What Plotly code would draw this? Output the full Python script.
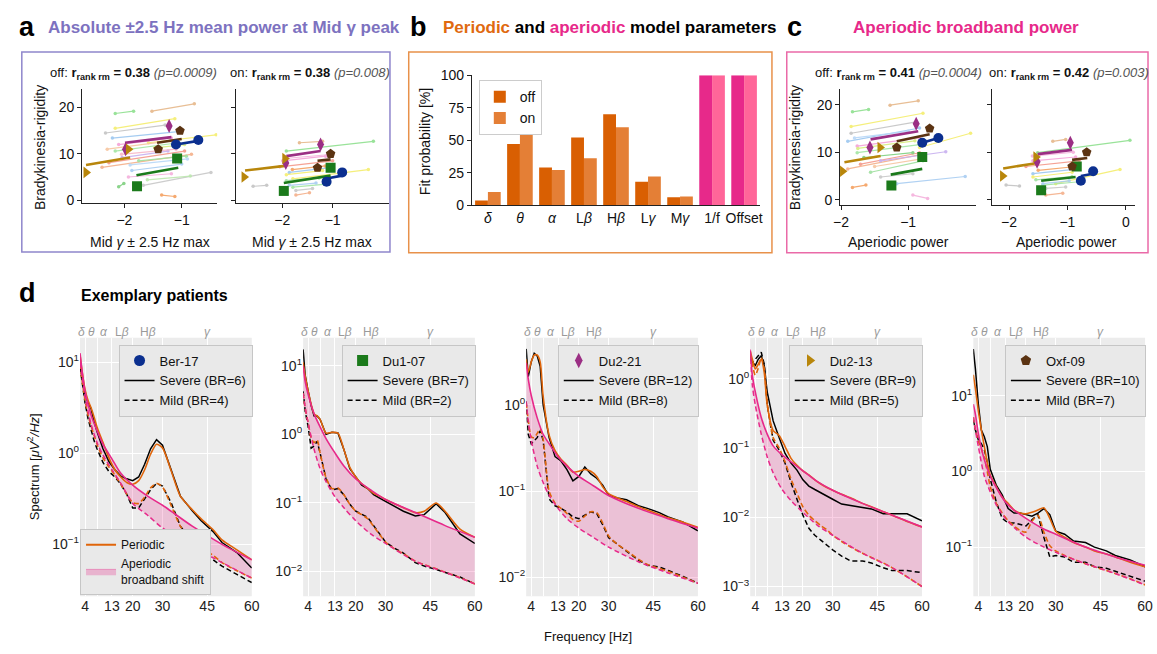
import plotly.graph_objects as go

W, H = 1157, 654
FONT = "Liberation Sans, Arial, sans-serif"

# ---------------- panel b data ----------------
b_categories = ["<i>δ</i>", "<i>θ</i>", "<i>α</i>", "L<i>β</i>", "H<i>β</i>", "L<i>γ</i>", "M<i>γ</i>", "1/f", "Offset"]
b_fit_off = [3.5, 47, 29, 52, 70, 18, 6, 100, 100]
b_fit_on = [10, 60, 27, 36, 60, 22, 6.5, 100, 100]

# ---------------- panels a & c data ----------------
patients = ["Ber-17", "Du1-07", "Du2-21", "Du2-13", "Oxf-09"]
br_off = [[12, 13], [3, 9], [11, 16], [6, 11], [11, 15]]
br_on = [[4, 6], [2, 7], [8, 12], [5, 9], [7, 10]]

a_off_pt_x = [[-1.10, -0.71], [-1.78, -1.08], [-1.98, -1.22], [-2.67, -1.93], [-1.41, -1.03]]
a_off_fit_x = [[-1.10, -0.71], [-1.79, -1.06], [-1.99, -1.18], [-2.67, -1.90], [-1.43, -1.00]]
a_off_fit_y = [[12.0, 12.8], [5.4, 7.0], [12.4, 13.6], [7.6, 9.2], [12.4, 13.2]]
a_on_pt_x = [[-1.12, -0.81], [-1.97, -1.04], [-1.93, -1.24], [-2.76, -1.95], [-1.30, -1.04]]
a_on_fit_x = [[-1.12, -0.81], [-1.97, -1.04], [-1.92, -1.24], [-2.74, -1.95], [-1.30, -1.04]]
a_on_fit_y = [[4.7, 5.3], [3.7, 5.3], [9.5, 10.6], [6.4, 7.4], [8.5, 8.8]]
c_off_pt_x = [[-0.79, -0.55], [-1.25, -0.79], [-1.57, -0.88], [-1.98, -1.42], [-1.17, -0.68]]
c_off_fit_x = [[-0.79, -0.55], [-1.26, -0.79], [-1.56, -0.85], [-1.95, -1.41], [-1.17, -0.68]]
c_off_fit_y = [[12.0, 13.0], [5.3, 6.5], [12.7, 14.4], [7.9, 9.2], [12.3, 13.8]]
c_on_pt_x = [[-0.77, -0.56], [-1.45, -0.84], [-1.52, -0.95], [-2.11, -1.54], [-0.92, -0.67]]
c_on_fit_x = [[-0.77, -0.56], [-1.45, -0.86], [-1.51, -0.92], [-2.10, -1.54], [-0.92, -0.66]]
c_on_fit_y = [[5.0, 5.5], [4.0, 4.8], [9.6, 10.5], [6.6, 7.7], [8.4, 8.8]]

# other patients' repeated-measures lines (start/end)
a_off_bg_x0 = [-2.16, -1.52, -2.16, -2.33, -2.21, -1.58, -2.10, -2.16, -2.39, -2.27, -1.75, -1.87, -1.67, -1.93, -1.35, -2.10, -2.04, -1.47, -2.30, -1.90, -2.05, -1.60]
a_off_bg_x1 = [-1.84, -0.78, -1.12, -1.29, -1.06, -0.40, -1.18, -1.06, -0.83, -0.95, -0.92, -1.00, -0.49, -1.18, -1.12, -2.01, -1.24, -0.95, -1.20, -0.90, -1.10, -0.85]
a_off_bg_y0 = [18.7, 19.2, 15.5, 14.5, 13.4, 12.4, 12.0, 10.6, 7.1, 8.1, 8.5, 6.4, 3.2, 5.0, 1.1, 2.9, 9.2, 11.3, 11.0, 7.6, 9.9, 4.4]
a_off_bg_y1 = [19.2, 20.8, 17.6, 16.2, 14.8, 14.1, 13.4, 12.4, 9.9, 10.6, 9.5, 7.8, 6.0, 5.7, 0.8, 3.6, 10.6, 12.0, 12.8, 8.9, 11.0, 5.2]
a_on_bg_x0 = [-1.92, -1.66, -1.79, -2.58, -1.86, -1.92, -1.99, -1.79, -1.73, -2.05, -1.92, -1.86, -1.73, -1.95, -1.80]
a_on_bg_x1 = [-0.19, -1.20, -0.29, -2.31, -1.00, -1.20, -1.14, -1.07, -1.46, -1.00, -1.27, -1.33, -1.40, -1.10, -1.15]
a_on_bg_y0 = [10.6, 12.4, 4.6, 3.0, 6.0, 5.5, 8.5, 2.8, 1.1, 7.2, 4.2, 3.2, 2.1, 9.0, 6.6]
a_on_bg_y1 = [12.7, 12.7, 6.6, 3.2, 7.1, 6.4, 9.5, 3.5, 1.6, 8.5, 4.8, 3.7, 2.5, 9.8, 7.4]
c_off_bg_x0 = [-1.83, -1.27, -1.85, -1.85, -1.90, -0.83, -1.76, -1.76, -1.90, -1.71, -1.56, -1.17, -1.41, -0.93, -1.83, -1.66, -1.41, -1.75, -1.50, -1.80]
c_off_bg_x1 = [-1.59, -0.85, -0.78, -0.88, -0.83, -0.07, -0.83, -0.83, -0.78, -0.83, -0.78, -0.15, -0.93, -0.71, -1.63, -0.93, -0.44, -0.90, -0.80, -1.00]
c_off_bg_y0 = [18.5, 19.9, 15.4, 14.0, 12.3, 11.0, 11.3, 9.9, 6.5, 7.5, 5.8, 3.4, 4.8, 1.0, 2.6, 8.9, 8.2, 10.8, 7.0, 13.0]
c_off_bg_y1 = [19.0, 20.8, 18.2, 16.4, 15.1, 14.0, 13.0, 11.6, 9.6, 9.9, 8.2, 4.9, 5.5, 0.3, 3.1, 9.9, 10.1, 12.4, 8.6, 14.4]
c_on_bg_x0 = [-1.51, -1.25, -1.20, -2.05, -1.59, -1.59, -1.59, -1.42, -1.37, -1.71, -1.54, -1.42, -1.37, -1.60, -1.50]
c_on_bg_x1 = [0.07, -1.03, -0.10, -1.82, -0.80, -0.92, -0.86, -0.80, -1.08, -0.80, -0.92, -0.97, -1.03, -0.90, -0.85]
c_on_bg_y0 = [9.9, 12.3, 3.4, 3.1, 5.5, 4.8, 8.2, 3.1, 1.0, 7.0, 4.2, 3.4, 2.4, 9.2, 6.2]
c_on_bg_y1 = [12.5, 12.7, 6.4, 2.9, 6.5, 5.8, 9.0, 3.8, 1.4, 8.2, 4.9, 4.0, 2.7, 10.0, 7.0]

# ---------------- panel d data (log10 power) ----------------
freq = [2.3, 3, 4, 5, 6, 7, 8, 10, 12, 14, 16, 18, 20, 22, 24, 26, 28, 30, 33, 36, 40, 43, 47, 50, 55, 60]
freq_ap = [2.3, 3, 4, 6, 8, 10, 13, 16, 20, 25, 30, 40, 50, 60]
d_br_severe = [6, 7, 12, 9, 10]
d_br_mild = [4, 2, 8, 5, 7]

ber17_sev = [0.96, 0.82, 0.64, 0.56, 0.49, 0.35, 0.24, 0.05, -0.09, -0.18, -0.25, -0.28, -0.30, -0.26, -0.12, 0.05, 0.15, 0.09, -0.19, -0.47, -0.63, -0.74, -0.86, -0.98, -1.09, -1.26]
ber17_sev_fit = [1.08, 0.9, 0.7, 0.58, 0.5, 0.4, 0.29, 0.12, -0.05, -0.18, -0.26, -0.32, -0.34, -0.3, -0.18, -0.01, 0.1, 0.06, -0.2, -0.47, -0.62, -0.72, -0.84, -0.95, -1.06, -1.17]
ber17_mild = [0.95, 0.78, 0.55, 0.38, 0.25, 0.14, 0.05, -0.1, -0.2, -0.26, -0.34, -0.45, -0.6, -0.6, -0.5, -0.4, -0.33, -0.36, -0.55, -0.8, -0.97, -1.07, -1.17, -1.24, -1.33, -1.42]
ber17_mild_fit = [0.98, 0.8, 0.58, 0.42, 0.3, 0.2, 0.1, -0.05, -0.15, -0.24, -0.34, -0.45, -0.54, -0.55, -0.48, -0.38, -0.33, -0.37, -0.58, -0.8, -0.96, -1.04, -1.12, -1.2, -1.29, -1.37]
ber17_ap_sev = [1.1, 0.9, 0.68, 0.42, 0.25, 0.1, -0.06, -0.22, -0.35, -0.47, -0.57, -0.8, -1.0, -1.17]
ber17_ap_mild = [1.0, 0.84, 0.62, 0.32, 0.12, -0.02, -0.18, -0.33, -0.55, -0.68, -0.82, -1.02, -1.2, -1.37]

du107_sev = [1.24, 0.86, 0.63, 0.42, 0.27, 0.27, 0.22, 0.0, 0.03, 0.02, -0.22, -0.5, -0.62, -0.74, -0.79, -0.88, -0.93, -0.98, -1.05, -1.12, -1.19, -1.17, -1.01, -1.14, -1.45, -1.59]
du107_sev_fit = [1.05, 0.85, 0.63, 0.44, 0.3, 0.27, 0.22, 0.02, 0.03, 0.02, -0.22, -0.48, -0.62, -0.72, -0.79, -0.86, -0.9, -0.95, -1.01, -1.07, -1.14, -1.12, -1.0, -1.12, -1.38, -1.5]
du107_mild = [0.63, 0.34, 0.11, -0.2, -0.17, -0.1, -0.27, -0.65, -0.81, -0.79, -0.88, -1.02, -1.12, -1.17, -1.21, -1.33, -1.45, -1.57, -1.66, -1.73, -1.87, -1.92, -1.97, -2.01, -2.08, -2.18]
du107_mild_fit = [0.6, 0.38, 0.17, -0.05, -0.12, -0.08, -0.27, -0.63, -0.79, -0.78, -0.88, -1.02, -1.12, -1.17, -1.23, -1.34, -1.46, -1.57, -1.67, -1.74, -1.85, -1.9, -1.96, -2.01, -2.09, -2.18]
du107_ap_sev = [1.0, 0.77, 0.58, 0.3, 0.11, -0.06, -0.27, -0.46, -0.65, -0.81, -0.95, -1.14, -1.33, -1.5]
du107_ap_mild = [0.6, 0.39, 0.16, -0.22, -0.5, -0.69, -0.91, -1.07, -1.26, -1.45, -1.59, -1.85, -2.01, -2.18]

du221_sev = [0.65, 0.33, 0.5, 0.6, 0.57, 0.45, 0.0, -0.38, -0.6, -0.65, -0.75, -0.88, -0.83, -0.72, -0.8, -0.85, -0.93, -1.05, -1.08, -1.1, -1.17, -1.2, -1.25, -1.3, -1.36, -1.46]
du221_sev_fit = [0.53, 0.38, 0.5, 0.58, 0.58, 0.5, 0.1, -0.35, -0.53, -0.63, -0.7, -0.78, -0.77, -0.75, -0.77, -0.83, -0.95, -1.03, -1.08, -1.12, -1.18, -1.22, -1.27, -1.31, -1.36, -1.42]
du221_mild = [0.04, -0.34, -0.45, -0.41, -0.38, -0.3, -0.41, -1.09, -1.17, -1.2, -1.24, -1.3, -1.32, -1.28, -1.24, -1.26, -1.39, -1.54, -1.62, -1.69, -1.8, -1.86, -1.88, -1.92, -1.99, -2.07]
du221_mild_fit = [0.02, -0.18, -0.37, -0.38, -0.33, -0.28, -0.4, -1.0, -1.14, -1.2, -1.26, -1.33, -1.35, -1.29, -1.24, -1.25, -1.37, -1.52, -1.62, -1.69, -1.79, -1.85, -1.9, -1.93, -2.0, -2.07]
du221_ap_sev = [0.49, 0.3, 0.11, -0.15, -0.34, -0.45, -0.6, -0.71, -0.83, -0.94, -1.05, -1.2, -1.32, -1.43]
du221_ap_mild = [0.04, -0.19, -0.41, -0.71, -0.9, -1.05, -1.2, -1.32, -1.43, -1.54, -1.65, -1.82, -1.95, -2.07]

du213_sev = [0.33, 0.24, 0.19, 0.28, 0.33, 0.19, -0.19, -0.61, -0.85, -1.08, -1.22, -1.32, -1.46, -1.55, -1.6, -1.65, -1.69, -1.74, -1.81, -1.83, -1.86, -1.88, -1.95, -1.95, -1.95, -2.05]
du213_sev_fit = [0.4, 0.28, 0.14, 0.21, 0.28, 0.09, -0.38, -0.75, -0.82, -0.98, -1.15, -1.25, -1.33, -1.39, -1.46, -1.52, -1.57, -1.61, -1.67, -1.72, -1.8, -1.85, -1.92, -1.97, -2.06, -2.14]
du213_mild = [0.28, 0.24, 0.28, 0.33, 0.38, 0.21, -0.38, -0.89, -1.03, -1.22, -1.5, -1.74, -1.97, -2.16, -2.26, -2.33, -2.4, -2.47, -2.56, -2.63, -2.63, -2.66, -2.73, -2.77, -2.77, -2.8]
du213_mild_fit = [0.35, 0.2, 0.05, 0.15, 0.3, 0.15, -0.35, -0.85, -1.0, -1.2, -1.45, -1.65, -1.85, -1.97, -2.05, -2.12, -2.18, -2.26, -2.35, -2.43, -2.52, -2.58, -2.66, -2.73, -2.86, -3.0]
du213_ap_sev = [0.42, 0.05, -0.19, -0.56, -0.8, -0.97, -1.1, -1.2, -1.33, -1.49, -1.61, -1.8, -1.97, -2.14]
du213_ap_mild = [0.4, -0.09, -0.38, -0.8, -1.13, -1.36, -1.6, -1.76, -1.93, -2.12, -2.26, -2.52, -2.73, -3.0]

oxf09_sev = [1.62, 1.36, 0.89, 0.55, 0.46, 0.33, 0.03, -0.18, -0.31, -0.49, -0.55, -0.55, -0.57, -0.59, -0.55, -0.49, -0.57, -0.79, -0.83, -0.92, -0.94, -1.0, -1.05, -1.11, -1.17, -1.26]
oxf09_sev_fit = [1.28, 1.1, 0.8, 0.55, 0.33, 0.12, -0.05, -0.2, -0.34, -0.42, -0.51, -0.55, -0.56, -0.54, -0.51, -0.48, -0.62, -0.79, -0.87, -0.94, -1.0, -1.05, -1.09, -1.13, -1.2, -1.26]
oxf09_mild = [0.68, 0.55, 0.42, 0.37, 0.29, 0.12, -0.1, -0.4, -0.62, -0.68, -0.68, -0.7, -0.72, -0.64, -0.57, -0.87, -1.13, -1.11, -1.13, -1.2, -1.2, -1.26, -1.28, -1.32, -1.39, -1.45]
oxf09_mild_fit = [0.72, 0.56, 0.4, 0.3, 0.18, 0.0, -0.2, -0.42, -0.55, -0.65, -0.72, -0.78, -0.8, -0.66, -0.58, -0.8, -0.98, -1.05, -1.11, -1.16, -1.22, -1.26, -1.31, -1.35, -1.42, -1.5]
oxf09_ap_sev = [0.89, 0.76, 0.5, 0.16, -0.06, -0.21, -0.4, -0.51, -0.62, -0.74, -0.83, -1.0, -1.13, -1.24]
oxf09_ap_mild = [0.72, 0.55, 0.33, -0.06, -0.27, -0.44, -0.62, -0.74, -0.87, -0.98, -1.07, -1.22, -1.35, -1.5]

band_names = ["<i>δ</i>", "<i>θ</i>", "<i>α</i>", "L<i>β</i>", "H<i>β</i>", "<i>γ</i>"]
band_centers = [2.8, 6, 10.5, 16.5, 25, 45]
freq_ticks = [4, 8, 13, 20, 30, 45, 60]
freq_ticktext = ["4", "", "13", "20", "30", "45", "60"]

# ---------------- styles ----------------
pat_colors = ["#0b2f8f", "#1b7a1b", "#9b2f84", "#b8860b", "#5b3312"]
pat_symbols = ["circle", "square", "diamond-tall", "triangle-right", "pentagon"]
bg_palette = ["#8fe08f", "#e6b88a", "#f5ee6e", "#c4c4c4", "#9cc7f0", "#f5ee6e", "#f5a3d8", "#a3e6a3",
              "#f5b08a", "#f5998a", "#9fe09f", "#a8cdf2", "#c8c8c8", "#f5b0dc", "#f5a060", "#7fd07f",
              "#c8b0f0", "#d8ee80", "#f7c6a0", "#b8d8f8", "#f8b8c8", "#bde8b0"]
ORANGE = "#e0650a"
PINK = "#e7298a"
FILL = "rgba(231,41,138,0.22)"


def fx(p):
    return p / W


def fy(p):
    return 1 - p / H


def ref(i, a):
    return a if i == 1 else f"{a}{i}"


def axname(i, a):
    return f"{a}axis" if i == 1 else f"{a}axis{i}"


fig = go.Figure()
layout = dict(
    width=W, height=H, margin=dict(l=0, r=0, t=0, b=0),
    paper_bgcolor="white", plot_bgcolor="rgba(0,0,0,0)",
    font=dict(family=FONT, size=13, color="#111"),
    barmode="group", bargap=0.2, bargroupgap=0.0,
    showlegend=True,
)

sc_axis = dict(showline=True, linecolor="#222", linewidth=1, ticks="outside", ticklen=4,
               tickwidth=1, tickcolor="#222", showgrid=False, zeroline=False,
               tickfont=dict(size=14, color="#111"))


def set_axes(i, xdom, ydom, xkw, ykw):
    layout[axname(i, "x")] = dict(domain=[fx(xdom[0]), fx(xdom[1])], anchor=ref(i, "y"), **xkw)
    layout[axname(i, "y")] = dict(domain=[fy(ydom[1]), fy(ydom[0])], anchor=ref(i, "x"), **ykw)


# ---- scatter panels a and c ----
scatter_specs = [
    (1, (76, 213), (83, 200), [-2.74, -0.38], [-0.63, 24], [-2, -1], True,
     (a_off_bg_x0, a_off_bg_x1, a_off_bg_y0, a_off_bg_y1), a_off_pt_x, a_off_fit_x, a_off_fit_y, br_off),
    (2, (232, 387), (83, 200), [-2.92, 0.12], [-0.63, 24], [-2, -1], False,
     (a_on_bg_x0, a_on_bg_x1, a_on_bg_y0, a_on_bg_y1), a_on_pt_x, a_on_fit_x, a_on_fit_y, br_on),
    (4, (844, 982), (83, 202), [-2.015, 0.015], [-1.1, 23.3], [-2, -1], True,
     (c_off_bg_x0, c_off_bg_x1, c_off_bg_y0, c_off_bg_y1), c_off_pt_x, c_off_fit_x, c_off_fit_y, br_off),
    (5, (998, 1143), (83, 202), [-2.29, 0.16], [-1.1, 23.3], [-2, -1, 0], False,
     (c_on_bg_x0, c_on_bg_x1, c_on_bg_y0, c_on_bg_y1), c_on_pt_x, c_on_fit_x, c_on_fit_y, br_on),
]

for (i, xd, yd, xr, yr, xt, ylab, bg, ptx, fitx, fity, br) in scatter_specs:
    xa = dict(sc_axis, range=xr, tickvals=xt, ticktext=[("−" + str(-v)) if v < 0 else str(v) for v in xt])
    ya = dict(sc_axis, range=yr, tickvals=[0, 10, 20], showticklabels=ylab)
    set_axes(i, xd, yd, xa, ya)
    xs, ys = ref(i, "x"), ref(i, "y")
    x0s, x1s, y0s, y1s = bg
    for k in range(len(x0s)):
        col = bg_palette[k % len(bg_palette)]
        fig.add_trace(go.Scatter(x=[x0s[k], x1s[k]], y=[y0s[k], y1s[k]], mode="lines+markers",
                                 line=dict(color=col, width=1.2), marker=dict(size=3.5, color=col),
                                 opacity=0.9, showlegend=False, hoverinfo="skip", xaxis=xs, yaxis=ys))
    for p in range(len(patients)):
        fig.add_trace(go.Scatter(x=fitx[p], y=fity[p], mode="lines",
                                 line=dict(color=pat_colors[p], width=2.6),
                                 showlegend=False, xaxis=xs, yaxis=ys))
    for p in range(len(patients)):
        fig.add_trace(go.Scatter(x=ptx[p], y=br[p], mode="markers",
                                 marker=dict(color=pat_colors[p], symbol=pat_symbols[p], size=10,
                                             line=dict(width=0)),
                                 showlegend=False, xaxis=xs, yaxis=ys))

# ---- panel b bars ----
b_off_colors = ["#d95f02"] * 7 + ["#e7298a"] * 2
b_on_colors = ["#e47f36"] * 7 + ["#ff6699"] * 2
set_axes(3, (471, 763), (69, 202),
         dict(showline=True, linecolor="#222", linewidth=1, ticks="", showgrid=False, zeroline=False,
              range=[-0.5, 8.5], tickvals=list(range(len(b_categories))), ticktext=b_categories,
              tickfont=dict(size=14, color="#111")),
         dict(sc_axis, range=[0, 100], tickvals=[0, 25, 50, 75, 100]))
fig.add_trace(go.Bar(x=list(range(len(b_categories))), y=b_fit_off, name="off",
                     marker=dict(color=b_off_colors, line=dict(width=0)), xaxis="x3", yaxis="y3",
                     legend="legend"))
fig.add_trace(go.Bar(x=list(range(len(b_categories))), y=b_fit_on, name="on",
                     marker=dict(color=b_on_colors, line=dict(width=0)), xaxis="x3", yaxis="y3",
                     legend="legend"))

# ---- panel d spectra ----
d_sets = [
    (ber17_sev, ber17_sev_fit, ber17_mild, ber17_mild_fit, ber17_ap_sev, ber17_ap_mild),
    (du107_sev, du107_sev_fit, du107_mild, du107_mild_fit, du107_ap_sev, du107_ap_mild),
    (du221_sev, du221_sev_fit, du221_mild, du221_mild_fit, du221_ap_sev, du221_ap_mild),
    (du213_sev, du213_sev_fit, du213_mild, du213_mild_fit, du213_ap_sev, du213_ap_mild),
    (oxf09_sev, oxf09_sev_fit, oxf09_mild, oxf09_mild_fit, oxf09_ap_sev, oxf09_ap_mild),
]
d_left = [74, 300, 526, 753, 979]
d_yranges = [[-1.57, 1.27], [-2.36, 1.41], [-2.22, 0.78], [-3.14, 0.59], [-1.65, 1.77]]
d_legend_x = [113, 339, 558, 792, 1011]

shapes = []
annotations = []

sup = {1: "1", 0: "0", -1: "−1", -2: "−2", -3: "−3"}
spl = dict(shape="spline", smoothing=0.8)

for j in range(5):
    i = 6 + j
    xs, ys = ref(i, "x"), ref(i, "y")
    lo, hi = d_yranges[j]
    decs = [d for d in range(-3, 2) if lo <= d <= hi]
    xa = dict(range=[2.3, 60], tickvals=freq_ticks, ticktext=freq_ticktext, showgrid=True,
              gridcolor="white", gridwidth=1.2, zeroline=False, showline=False, ticks="",
              tickfont=dict(size=14, color="#222"))
    ya = dict(type="log", range=[lo, hi], tickvals=[10 ** d for d in decs],
              ticktext=[f"10<sup>{sup[d]}</sup>" for d in decs], showgrid=True, gridcolor="white",
              gridwidth=1.2, zeroline=False, showline=False, ticks="", tickfont=dict(size=14, color="#222"))
    set_axes(i, (d_left[j], d_left[j] + 174), (338, 603), xa, ya)
    shapes.append(dict(type="rect", xref=f"{xs} domain", yref=f"{ys} domain", x0=0, x1=1, y0=0, y1=1,
                       fillcolor="#ececec", line=dict(width=0), layer="below"))
    sev, sev_fit, mild, mild_fit, ap_sev, ap_mild = d_sets[j]
    ap_mild_y = [10 ** v for v in ap_mild]
    ap_sev_y = [10 ** v for v in ap_sev]
    lg = f"legend{j + 2}"
    fig.add_trace(go.Scatter(x=[None], y=[None], mode="markers", name=patients[j],
                             marker=dict(color=pat_colors[j], symbol=pat_symbols[j], size=11),
                             xaxis=xs, yaxis=ys, legend=lg))
    # shaded aperiodic broadband shift
    fig.add_trace(go.Scatter(x=freq_ap, y=ap_mild_y, mode="lines", line=dict(width=0, **spl),
                             showlegend=False, hoverinfo="skip", xaxis=xs, yaxis=ys))
    fig.add_trace(go.Scatter(x=freq_ap, y=ap_sev_y, mode="lines", fill="tonexty", fillcolor=FILL,
                             line=dict(width=0, **spl), showlegend=False, hoverinfo="skip",
                             xaxis=xs, yaxis=ys))
    # raw spectra
    fig.add_trace(go.Scatter(x=freq, y=[10 ** v for v in sev], mode="lines",
                             name=f"Severe (BR={d_br_severe[j]})",
                             line=dict(color="black", width=1.5), xaxis=xs, yaxis=ys, legend=lg))
    fig.add_trace(go.Scatter(x=freq, y=[10 ** v for v in mild], mode="lines",
                             name=f"Mild (BR={d_br_mild[j]})",
                             line=dict(color="black", width=1.5, dash="5px,3px"), xaxis=xs, yaxis=ys,
                             legend=lg))
    # periodic fits
    fig.add_trace(go.Scatter(x=freq, y=[10 ** v for v in sev_fit], mode="lines",
                             line=dict(color=ORANGE, width=1.6, shape="spline", smoothing=0.7),
                             showlegend=False, xaxis=xs, yaxis=ys))
    fig.add_trace(go.Scatter(x=freq, y=[10 ** v for v in mild_fit], mode="lines",
                             line=dict(color=ORANGE, width=1.6, dash="5px,3px", shape="spline", smoothing=0.7),
                             showlegend=False, xaxis=xs, yaxis=ys))
    # aperiodic fit lines on top
    fig.add_trace(go.Scatter(x=freq_ap, y=ap_mild_y, mode="lines",
                             line=dict(color=PINK, width=1.5, dash="5px,3px", **spl),
                             showlegend=False, xaxis=xs, yaxis=ys))
    fig.add_trace(go.Scatter(x=freq_ap, y=ap_sev_y, mode="lines",
                             line=dict(color=PINK, width=1.6, **spl),
                             showlegend=False, xaxis=xs, yaxis=ys))
    for nm, fc in zip(band_names, band_centers):
        annotations.append(dict(x=fc, y=fy(332), xref=xs, yref="paper", text=nm, showarrow=False,
                                font=dict(size=12, color="#9a9a9a")))
    layout[lg] = dict(x=fx(d_legend_x[j]), y=fy(345), xanchor="left", yanchor="top", xref="paper",
                      yref="paper", bgcolor="#e9e9e9", bordercolor="#c6c6c6", borderwidth=1,
                      font=dict(size=13, color="#111"), itemwidth=30, tracegroupgap=0,
                      traceorder="normal")

# bottom-left legend of first spectrum panel
fig.add_trace(go.Scatter(x=[None], y=[None], mode="lines", name="Periodic",
                         line=dict(color=ORANGE, width=2), xaxis="x6", yaxis="y6", legend="legend7"))
fig.add_trace(go.Scatter(x=[None], y=[None], mode="lines", name="Aperiodic<br>broadband shift",
                         fill="toself", fillcolor="rgba(231,41,138,0.28)",
                         line=dict(color="rgba(231,41,138,0.35)", width=1), xaxis="x6", yaxis="y6",
                         legend="legend7"))
layout["legend7"] = dict(x=fx(74), y=fy(602), xanchor="left", yanchor="bottom", xref="paper", yref="paper",
                         bgcolor="#e9e9e9", bordercolor="#c6c6c6", borderwidth=1,
                         font=dict(size=12, color="#111"), itemwidth=30, tracegroupgap=0,
                         traceorder="normal")
layout["legend"] = dict(x=fx(478), y=fy(74), xanchor="left", yanchor="top", xref="paper", yref="paper",
                        bgcolor="white", bordercolor="#cccccc", borderwidth=1,
                        font=dict(size=14, color="#111"), itemwidth=30, traceorder="normal")

# panel boxes
shapes.append(dict(type="rect", xref="paper", yref="paper", x0=fx(15), x1=fx(388), y0=fy(250), y1=fy(45),
                   line=dict(color="#8f86cc", width=1.5), fillcolor="rgba(0,0,0,0)"))
shapes.append(dict(type="rect", xref="paper", yref="paper", x0=fx(407), x1=fx(775), y0=fy(251), y1=fy(45),
                   line=dict(color="#e8914a", width=1.5), fillcolor="rgba(0,0,0,0)"))
shapes.append(dict(type="rect", xref="paper", yref="paper", x0=fx(790), x1=fx(1156), y0=fy(251), y1=fy(45),
                   line=dict(color="#ea6aa8", width=1.5), fillcolor="rgba(0,0,0,0)"))


def txt(x, y, t, size=13, color="#111", xanchor="center", angle=0):
    annotations.append(dict(x=fx(x), y=fy(y), xref="paper", yref="paper", text=t, showarrow=False,
                            xanchor=xanchor, yanchor="middle", textangle=angle,
                            font=dict(size=size, color=color)))


txt(10, 19, "<b>a</b>", size=27, color="black", xanchor="left")
txt(40, 20, "<b>Absolute ±2.5 Hz mean power at Mid γ peak</b>", size=17, color="#7d72c0", xanchor="left")
txt(406, 19, "<b>b</b>", size=27, color="black", xanchor="left")
txt(440, 20, "<b><span style='color:#e06a10'>Periodic</span> and <span style='color:#e7298a'>aperiodic</span> model parameters</b>",
    size=17, color="black", xanchor="left")
txt(788, 19, "<b>c</b>", size=27, color="black", xanchor="left")
txt(972, 20, "<b>Aperiodic broadband power</b>", size=17, color="#e7298a")
txt(10, 292, "<b>d</b>", size=27, color="black", xanchor="left")
txt(73, 295, "<b>Exemplary patients</b>", size=16, color="black", xanchor="left")

ptxt = "<i><span style='color:#555'>(p={})</span></i>"
txt(128, 67, "off: <b>r<sub>rank rm</sub> = 0.38</b> " + ptxt.format("0.0009"))
txt(307, 67, "on: <b>r<sub>rank rm</sub> = 0.38</b> " + ptxt.format("0.008"))
txt(903, 67, "off: <b>r<sub>rank rm</sub> = 0.41</b> " + ptxt.format("0.0004"))
txt(1076, 67, "on: <b>r<sub>rank rm</sub> = 0.42</b> " + ptxt.format("0.003"))

txt(145, 240, "Mid <i>γ</i> ± 2.5 Hz max", size=14)
txt(309, 240, "Mid <i>γ</i> ± 2.5 Hz max", size=14)
txt(903, 240, "Aperiodic power", size=14)
txt(1073, 240, "Aperiodic power", size=14)
txt(33, 143, "Bradykinesia-rigidity", size=14, angle=-90)
txt(798, 143, "Bradykinesia-rigidity", size=14, angle=-90)
txt(423, 137, "Fit probability [%]", size=14, angle=-90)
txt(26, 470, "Spectrum [<i>μV</i><sup>2</sup><i>/Hz</i>]", size=13, angle=-90)
txt(589, 644, "Frequency [Hz]", size=13)

layout["shapes"] = shapes
layout["annotations"] = annotations
fig.update_layout(**layout)
fig.write_html("out.html")
